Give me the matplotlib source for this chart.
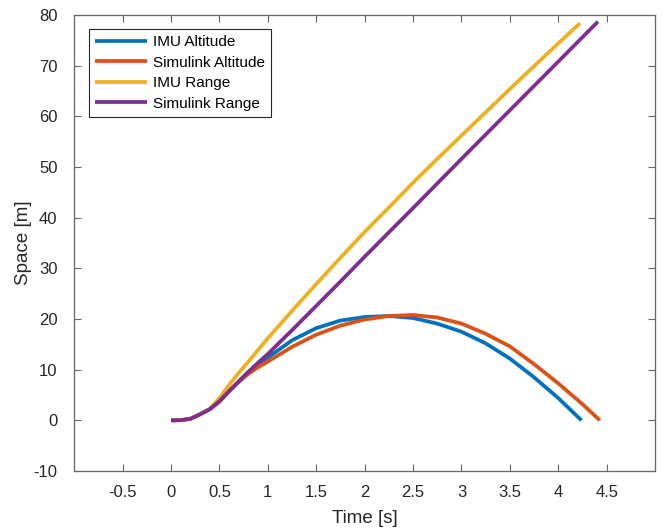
import matplotlib
matplotlib.use("Agg")
import matplotlib.pyplot as plt

plt.rcParams['font.family'] = ['Liberation Sans', 'DejaVu Sans']
plt.rcParams['axes.unicode_minus'] = False

# IMU Altitude
t_imu_alt = [0, 0.1, 0.2, 0.3, 0.4, 0.5, 0.6, 0.7, 0.8, 0.9, 1.0, 1.25, 1.5, 1.75, 2.0,
             2.25, 2.5, 2.75, 3.0, 3.25, 3.5, 3.75, 4.0, 4.24]
imu_alt = [0, 0.05, 0.3, 1.2, 2.2, 3.7, 5.8, 7.7, 9.5, 11.0, 12.4, 15.8, 18.2, 19.7, 20.4,
           20.6, 20.2, 19.1, 17.5, 15.2, 12.2, 8.5, 4.4, 0]

# Simulink Altitude
t_sim_alt = [0, 0.1, 0.2, 0.3, 0.4, 0.5, 0.6, 0.7, 0.8, 0.9, 1.0, 1.25, 1.5, 1.75, 2.0,
             2.25, 2.5, 2.75, 3.0, 3.25, 3.5, 3.75, 4.0, 4.25, 4.43]
sim_alt = [0, 0.05, 0.3, 1.2, 2.2, 3.7, 5.7, 7.6, 9.2, 10.5, 11.6, 14.5, 16.9, 18.7, 19.9,
           20.6, 20.8, 20.3, 19.1, 17.1, 14.6, 11.1, 7.3, 3.2, 0]

# IMU Range
t_imu_rng = [0, 0.1, 0.2, 0.3, 0.4, 0.5, 0.6, 0.7, 0.8, 0.9, 1.0, 1.25, 1.5, 1.75, 2.0,
             2.25, 2.5, 2.75, 3.0, 3.25, 3.5, 3.75, 4.0, 4.225]
imu_rng = [0, 0.05, 0.3, 1.2, 2.3, 4.4, 7.0, 9.4, 11.6, 13.9, 16.2, 21.6, 26.9, 32.1, 37.2,
           42.0, 46.9, 51.6, 56.2, 60.8, 65.4, 69.9, 74.4, 78.4]

# Simulink Range
t_sim_rng = [0, 0.1, 0.2, 0.3, 0.4, 0.5, 0.6, 0.7, 0.8, 0.9, 1.0, 1.25, 1.5, 1.75, 2.0,
             2.5, 3.0, 3.5, 4.0, 4.41]
sim_rng = [0, 0.05, 0.3, 1.2, 2.2, 3.8, 5.8, 7.7, 9.6, 11.4, 13.1, 17.8, 22.6, 27.4, 32.3,
           41.9, 51.6, 61.2, 70.8, 78.7]

labels = ['IMU Altitude', 'Simulink Altitude', 'IMU Range', 'Simulink Range']
colors = ['#0072BD', '#D95319', '#EDB120', '#7E2F8E']
xticks = [-0.5, 0, 0.5, 1, 1.5, 2, 2.5, 3, 3.5, 4, 4.5]
xtick_labels = ['-0.5', '0', '0.5', '1', '1.5', '2', '2.5', '3', '3.5', '4', '4.5']
yticks = [-10, 0, 10, 20, 30, 40, 50, 60, 70, 80]

fig = plt.figure(figsize=(6.63, 5.29), dpi=100)
ax = fig.add_axes([0.112, 0.1096, 0.876, 0.862])

series = [(t_imu_alt, imu_alt), (t_sim_alt, sim_alt), (t_imu_rng, imu_rng), (t_sim_rng, sim_rng)]
for (tx, vy), lab, c in zip(series, labels, colors):
    ax.plot(tx, vy, color=c, lw=2.7, label=lab, solid_capstyle='butt',
            solid_joinstyle='round')

ax.set_xlim(-1, 5)
ax.set_ylim(-10, 80)
ax.set_xticks(xticks)
ax.set_xticklabels(xtick_labels)
ax.set_yticks(yticks)

spine_c = '#666666'
for s in ax.spines.values():
    s.set_color(spine_c)
    s.set_linewidth(0.9)
ax.tick_params(direction='in', top=True, right=True, length=5, width=0.8,
               color=spine_c, labelcolor='#262626', labelsize=12)
ax.tick_params(axis='x', pad=10)
ax.tick_params(axis='y', pad=12)

ax.set_xlabel('Time [s]', fontsize=13.5, color='#262626', labelpad=7)
ax.set_ylabel('Space [m]', fontsize=13.5, color='#262626', labelpad=1)

leg = ax.legend(loc='upper left', bbox_to_anchor=(0.025, 0.969), fontsize=11,
                frameon=True, fancybox=False, framealpha=1, edgecolor='#262626',
                handlelength=3.4, borderpad=0.4, labelspacing=0.42, handletextpad=0.4,
                borderaxespad=0)
leg.get_frame().set_linewidth(0.8)

fig.savefig('out.png', dpi=100)
